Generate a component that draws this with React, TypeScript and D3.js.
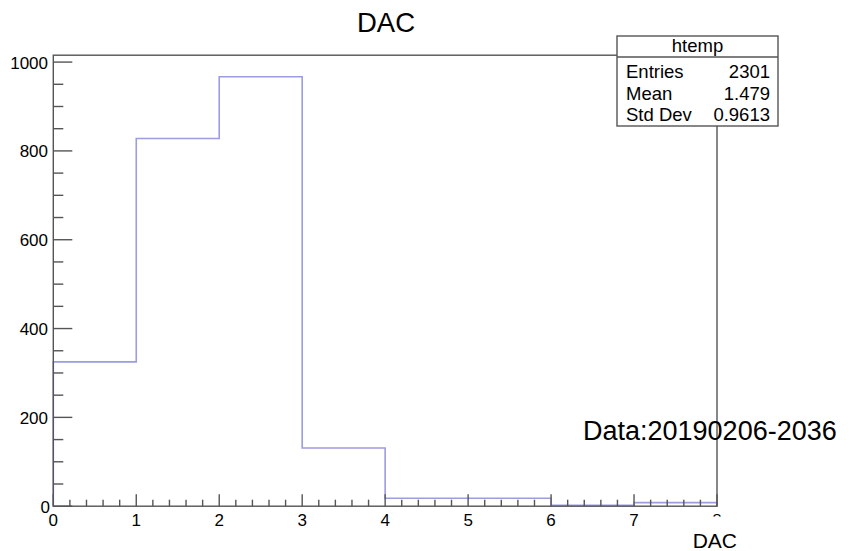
import React from "react";
import * as d3 from "d3";

const binLow = [0, 1, 2, 3, 4, 5, 6, 7];
const counts = [325, 828, 967, 131, 18, 18, 2, 8];
const xTicks = [0, 1, 2, 3, 4, 5, 6, 7, 8];
const yTicks = [0, 200, 400, 600, 800, 1000];
const statLabels = ["Entries", "Mean", "Std Dev"];
const statValues = ["2301", "1.479", "0.9613"];

const W = 849;
const H = 551;
const FONT = "'Liberation Sans', Arial, Helvetica, sans-serif";

export default function App() {
  const x = d3.scaleLinear().domain([0, 8]).range([53.3, 717]);
  const y = d3.scaleLinear().domain([0, 1015.5]).range([506.2, 55.2]);
  const x0 = x(0), x1 = x(8), y0 = y(0), y1 = y(1015.5);

  let p = `M${x(0)},${y(0)}`;
  binLow.forEach((b, i) => {
    p += `V${y(counts[i])}H${x(b + 1)}`;
  });
  p += `V${y(0)}`;

  const xMinor = d3.range(0, 8.0001, 0.2).filter((v) => Math.abs(v - Math.round(v)) > 1e-6);
  const yMinor = d3.range(0, 1015, 50).filter((v) => v % 200 !== 0);

  const frameColor = "#555";
  const box = { l: 617, r: 778, t: 36, sep: 57, b: 126 };

  return (
    <svg width={W} height={H} style={{ position: "absolute", left: 0, top: 0, background: "#fff" }} fontFamily={FONT}>
      <rect x={0} y={0} width={W} height={H} fill="#fff" />
      <text x={386} y={32} textAnchor="middle" fontSize={27.5} fill="#000">DAC</text>
      {/* histogram */}
      <path d={p} fill="none" stroke="#9c9ce2" strokeWidth={1.6} />
      {/* frame */}
      <rect x={x0} y={y1} width={x1 - x0} height={y0 - y1} fill="none" stroke={frameColor} strokeWidth={1.4} />
      {/* y ticks */}
      {yTicks.map((t) => (
        <g key={"y" + t}>
          <line x1={x0} x2={x0 + 19} y1={y(t)} y2={y(t)} stroke={frameColor} strokeWidth={1.4} />
          <text
            x={t === 0 ? 50 : 48}
            y={t === 0 ? 513 : y(t) + 6.5}
            textAnchor="end"
            fontSize={17}
            fill="#000"
          >
            {t}
          </text>
        </g>
      ))}
      {yMinor.map((t) => (
        <line key={"ym" + t} x1={x0} x2={x0 + 10} y1={y(t)} y2={y(t)} stroke={frameColor} strokeWidth={1.4} />
      ))}
      {/* x ticks */}
      {xTicks.map((t) => (
        <line key={"x" + t} x1={x(t)} x2={x(t)} y1={y0} y2={y0 - 12} stroke={frameColor} strokeWidth={1.4} />
      ))}
      {xMinor.map((t, i) => (
        <line key={"xm" + i} x1={x(t)} x2={x(t)} y1={y0} y2={y0 - 6.5} stroke={frameColor} strokeWidth={1.4} />
      ))}
      <defs>
        <clipPath id="lastLabel">
          <rect x={x(8) - 12} y={508} width={24} height={8.5} />
        </clipPath>
      </defs>
      {xTicks.map((t) => (
        <text
          key={"xl" + t}
          x={x(t)}
          y={526}
          textAnchor="middle"
          fontSize={17}
          fill="#000"
          clipPath={t === 8 ? "url(#lastLabel)" : undefined}
        >
          {t}
        </text>
      ))}
      <text x={737} y={548} textAnchor="end" fontSize={21} fill="#000">DAC</text>
      {/* stats box */}
      <rect x={box.l} y={box.t} width={box.r - box.l} height={box.b - box.t} fill="#fff" stroke={frameColor} strokeWidth={1.4} />
      <line x1={box.l} x2={box.r} y1={box.sep} y2={box.sep} stroke={frameColor} strokeWidth={1.4} />
      <text x={(box.l + box.r) / 2} y={52} textAnchor="middle" fontSize={18.5} fill="#000">htemp</text>
      {statLabels.map((s, i) => (
        <g key={s}>
          <text x={626} y={78 + i * 21.5} fontSize={18.5} fill="#000">{s}</text>
          <text x={770} y={78 + i * 21.5} textAnchor="end" fontSize={18.5} fill="#000">{statValues[i]}</text>
        </g>
      ))}
      <text x={583} y={440} fontSize={27} fill="#000">Data:20190206-2036</text>
    </svg>
  );
}
